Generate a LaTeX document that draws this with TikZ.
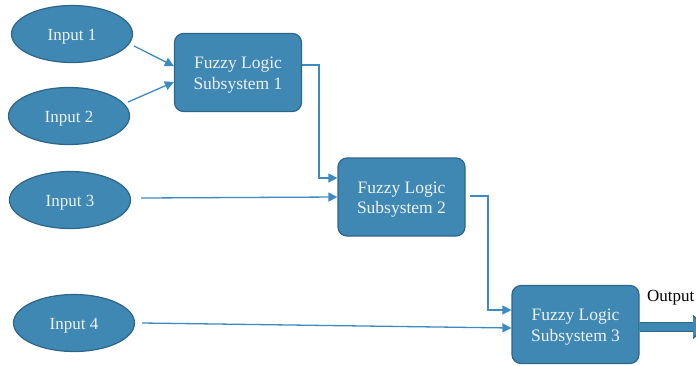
\documentclass[tikz,border=0pt]{standalone}
\usepackage{fontspec}
\setmainfont{Liberation Serif}
\usetikzlibrary{shapes.geometric,arrows.meta}
\definecolor{fillc}{HTML}{3F88B4}
\definecolor{edgec}{HTML}{2D6689}
\definecolor{linec}{HTML}{3B8BC2}
\definecolor{txtc}{HTML}{EEF2F5}
\newcommand{\lowr}[1]{\raisebox{-2.5pt}[\height][\depth]{#1}}
\begin{document}
\begin{tikzpicture}[x=1pt,y=-1pt,
  inp/.style={ellipse, draw=edgec, line width=1.2pt, fill=fillc, minimum width=121pt, minimum height=57pt, inner sep=0pt, text=txtc, font=\fontsize{17}{20}\selectfont},
  fls/.style={rectangle, rounded corners=9pt, draw=edgec, line width=1.2pt, fill=fillc, minimum width=127pt, minimum height=78pt, inner sep=0pt, align=center, text=txtc, font=\fontsize{17.5}{20.5}\selectfont},
  conn/.style={draw=linec, line width=1.3pt, -{Triangle[length=9pt,width=9pt]}}]
\useasboundingbox (0,0) rectangle (696,365);
\node[inp] (i1) at (72,34) {\lowr{Input 1}};
\node[inp] (i2) at (69,116) {\lowr{Input 2}};
\node[inp] (i3) at (70,200) {\lowr{Input 3}};
\node[inp] (i4) at (74,323) {\lowr{Input 4}};
\node[fls] (f1) at (238,72.5) {\lowr{\begin{tabular}{@{}c@{}}Fuzzy Logic\\Subsystem 1\end{tabular}}};
\node[fls] (f2) at (401.5,197) {\lowr{\begin{tabular}{@{}c@{}}Fuzzy Logic\\Subsystem 2\end{tabular}}};
\node[fls] (f3) at (575.5,324.5) {\lowr{\begin{tabular}{@{}c@{}}Fuzzy Logic\\Subsystem 3\end{tabular}}};
\coordinate (a1s) at (134,46);
\coordinate (a2s) at (128,102);
\draw[conn] (a1s) -- (f1.west |- 0,66);
\draw[conn] (a2s) -- (f1.west |- 0,82);
\draw[conn] (f1.east |- 0,65) -- (319,65) -- (319,178) -- (f2.west |- 0,178);
\draw[conn] (i3.east) ++(10,-2) -- (f2.west |- 0,197);
\draw[conn] (f2.east |- 0,196) ++(4,0) -- (488,196) -- (488,310) -- (f3.west |- 0,310);
\draw[conn] (i4.east) ++(7,0) -- (f3.west |- 0,328);
\coordinate (out) at (706,327);
\draw[draw=edgec, line width=10.5pt, -{Triangle[length=13pt,width=24pt]}] (f3.east |- 0,327) -- (out);
\draw[draw=fillc, line width=8pt, -{Triangle[length=11pt,width=20pt]}] (f3.east |- 0,327) ++(-1,0) -- (704,327);
\node[anchor=west, font=\fontsize{17}{20}\selectfont, inner sep=0pt] (ol) at (647,298) {Output};
\end{tikzpicture}
\end{document}
